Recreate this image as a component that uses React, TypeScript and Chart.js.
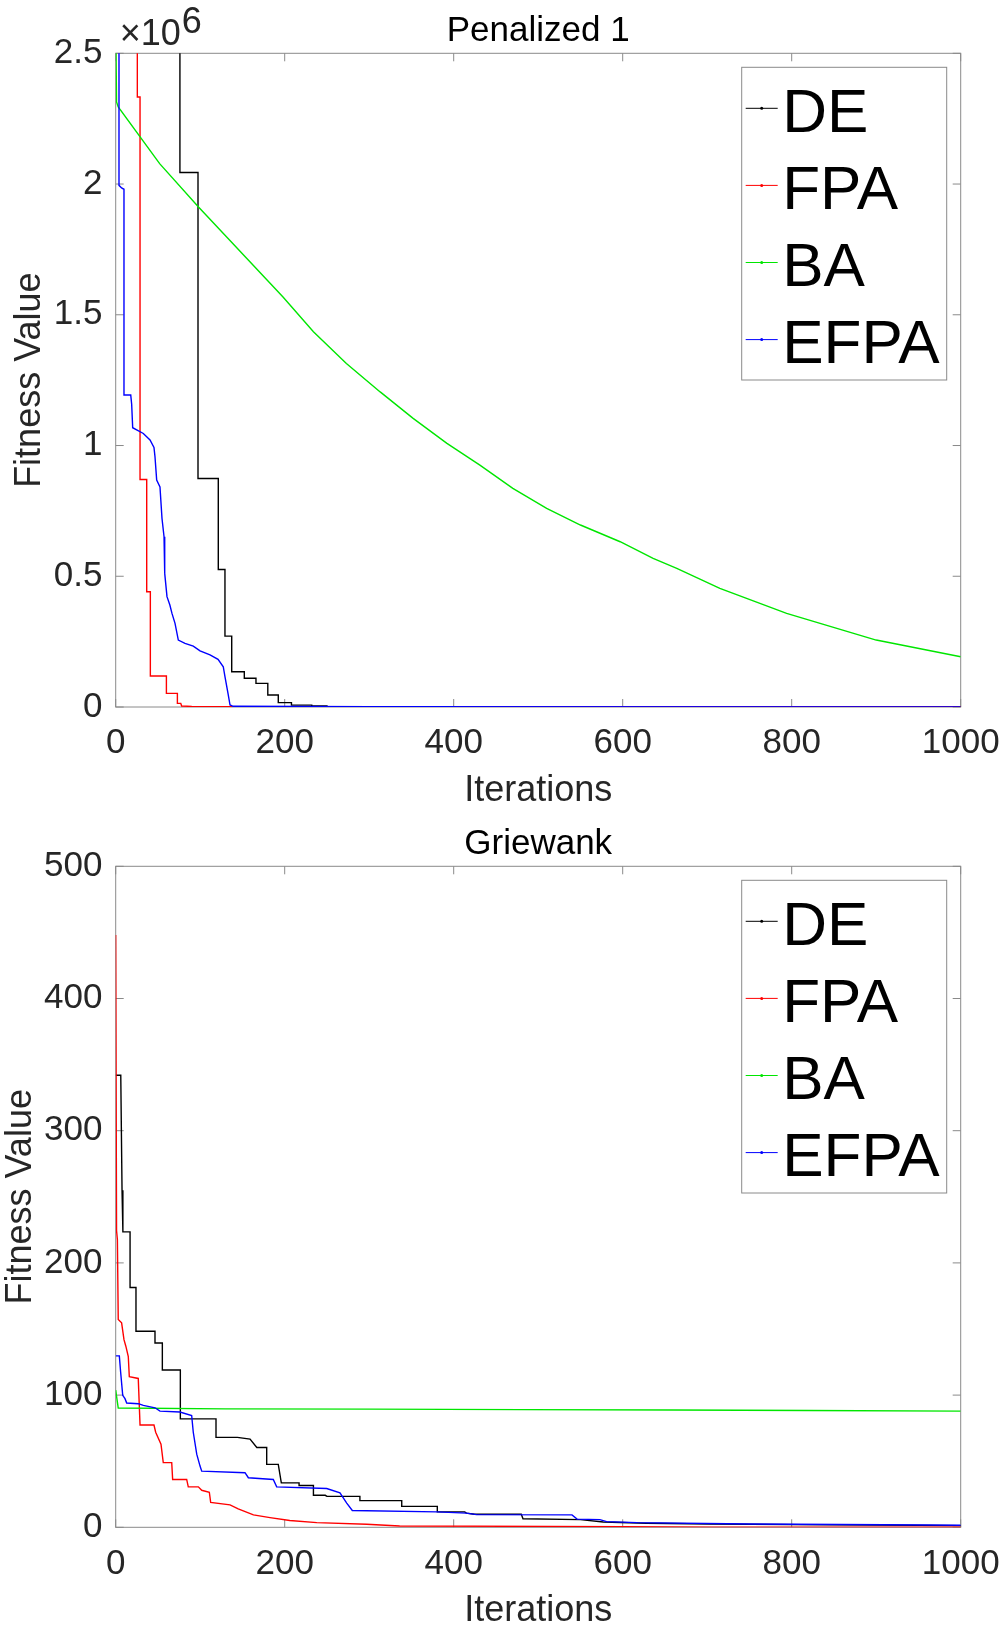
import React, { useEffect, useRef } from "react";
import { Chart, registerables } from "chart.js";

Chart.register(...registerables);

const FONT = "'Liberation Sans', Arial, Helvetica, sans-serif";
const AXIS_COLOR = "#8a8a8a";
const TEXT_COLOR = "#262626";

const SERIES_NAMES = ["DE", "FPA", "BA", "EFPA"];
const SERIES_COLORS = ["#000000", "#ff0000", "#00e600", "#0000ff"];

const X_TICKS = [0, 200, 400, 600, 800, 1000];

// ---------- Penalized 1 (values in units of 10^6) ----------
const PEN_Y_TICKS = [0, 0.5, 1, 1.5, 2, 2.5];

const penDE: [number, number][] = [
  [0, 3.2], [76, 3.2], [76, 2.044], [97.4, 2.044], [97.4, 0.874], [121.4, 0.874],
  [121.4, 0.526], [129.3, 0.526], [129.3, 0.271], [137.3, 0.271], [137.3, 0.135],
  [152.2, 0.135], [152.2, 0.11], [166, 0.11], [166, 0.0905], [180, 0.0905],
  [180, 0.046], [192.4, 0.046], [192.4, 0.0166], [208, 0.0166], [208, 0.007],
  [232, 0.007], [232, 0.004], [250, 0.004], [250, 0.002], [300, 0.001], [1000, 0.0003],
];

const penFPA: [number, number][] = [
  [0, 3.2], [25.6, 3.2], [25.6, 2.333], [28.8, 2.333], [28.8, 0.87], [36.7, 0.87],
  [36.7, 0.441], [41, 0.441], [41, 0.1185], [60, 0.1185], [60, 0.052], [73, 0.052],
  [73, 0.014], [77, 0.014], [78, 0.004], [90, 0.002], [1000, 0.0005],
];

const penBA: [number, number][] = [
  [0, 2.62], [1, 2.314], [3, 2.295], [52, 2.078], [98, 1.912], [198, 1.568],
  [234, 1.435], [273, 1.314], [313, 1.205], [352, 1.104], [392, 1.008], [431, 0.925],
  [470, 0.836], [510, 0.76], [550, 0.696], [597, 0.632], [636, 0.568], [664, 0.53],
  [715, 0.454], [794, 0.358], [900, 0.256], [1000, 0.192],
];

const penEFPA: [number, number][] = [
  [0, 2.8], [3.9, 2.8], [3.9, 1.995], [7, 1.985], [9.8, 1.98], [9.8, 1.193],
  [17.8, 1.193], [18.9, 1.158], [20.1, 1.068], [32.7, 1.046], [40.6, 1.021],
  [45.3, 0.993], [46.5, 0.957], [48.5, 0.868], [52.4, 0.842], [54.8, 0.721],
  [57.2, 0.651], [58, 0.511], [60.7, 0.422], [64.1, 0.39], [66.6, 0.358],
  [70.2, 0.32], [74.1, 0.256], [82, 0.2435], [91.8, 0.233], [99.8, 0.215],
  [111.6, 0.199], [121.1, 0.182], [127.3, 0.154], [129.3, 0.116], [132.9, 0.052],
  [135.3, 0.0076], [139, 0.0027], [300, 0.001], [1000, 0.0003],
];

// ---------- Griewank ----------
const GR_Y_TICKS = [0, 100, 200, 300, 400, 500];

const grDE: [number, number][] = [
  [0, 342], [6, 342], [7.5, 255], [8.5, 223.5], [17, 223.5], [17, 181.4], [24, 181.4],
  [24, 148.3], [46.5, 148.3], [46.5, 139.4], [55.2, 139.4], [55.2, 119], [76.5, 119],
  [76.5, 82], [118.7, 82], [118.7, 68], [144, 68], [159, 66.7], [167, 60.4],
  [178.7, 60.4], [178.7, 47.6], [192.4, 47.6], [196, 33.6], [217, 33.6], [217, 31.6],
  [234, 31.6], [234, 24.2], [248, 24.2], [250, 23.4], [289, 23.4], [289, 20.2],
  [338.5, 20.2], [338.5, 15.8], [380.6, 15.8], [380.6, 11.7], [413, 11.7], [415, 10.7],
  [425, 9.9], [480, 9.9], [482, 6.5], [550, 5.8], [577, 4.0], [628, 3.1], [703, 2.5],
  [850, 1.8], [1000, 1.3],
];

const grFPA: [number, number][] = [
  [0, 448], [1, 224.5], [2, 217.6], [3, 157.2], [7, 154.7], [9.8, 141.9], [12, 137],
  [14.9, 129.2], [16.1, 113.9], [26.7, 112.6], [28.8, 77.4], [45.3, 77.4], [47.3, 71.9],
  [53.6, 62.9], [56.3, 48.9], [66.3, 48.9], [67.4, 36.2], [84, 36.2], [85.9, 30.6],
  [97.8, 30.6], [101.8, 28], [110.8, 26.5], [112.4, 18.8], [135.3, 17], [145, 14],
  [163, 9.4], [182.6, 7.3], [206, 5.1], [238, 3.5], [297, 2.3], [336, 1.0], [600, 0.5],
  [705, 0.1], [1000, 0.05],
];

const grBA: [number, number][] = [
  [0, 103.7], [3, 90.2], [130, 89.6], [300, 89.4], [480, 89.0], [660, 88.7],
  [820, 88.4], [1000, 87.9],
];

const grEFPA: [number, number][] = [
  [0, 129.7], [4.3, 129.7], [5.8, 117.7], [8.3, 99.8], [11, 97.3], [13, 94],
  [26.7, 93.5], [32.7, 92.2], [46.5, 90.4], [52.4, 87.9], [76, 87.2], [89.9, 84.6],
  [91.8, 71.9], [95.9, 55.3], [99.8, 46.3], [101.8, 42.5], [153, 41.3], [157, 37.5],
  [186.5, 36.2], [190.5, 30.6], [249.7, 29.3], [265.4, 26], [273.4, 18.3], [280, 12.7],
  [380, 11.7], [415, 10.7], [427, 9.6], [540, 9.4], [546, 6.2], [573, 5.8], [581, 4.3],
  [617, 3.5], [750, 2.5], [962, 1.76], [1000, 1.6],
];

type Series = [number, number][];

interface PanelProps {
  top: number;
  height: number;
  title: string;
  series: Series[];
  yScale: number;
  yTicks: number[];
  exponent: boolean;
  xAxisHeight: number;
  xTitlePad: number;
  yTitlePad: number;
}

function makeDecor(title: string, exponent: boolean) {
  return {
    id: "decor",
    beforeDatasetsDraw(chart: any) {
      const { ctx, chartArea: a, scales } = chart;
      ctx.save();
      ctx.strokeStyle = AXIS_COLOR;
      ctx.lineWidth = 1;
      ctx.strokeRect(a.left, a.top, a.right - a.left, a.bottom - a.top);
      const TL = 8;
      ctx.beginPath();
      for (const t of scales.x.ticks) {
        const px = scales.x.getPixelForValue(t.value);
        ctx.moveTo(px, a.bottom);
        ctx.lineTo(px, a.bottom - TL);
        ctx.moveTo(px, a.top);
        ctx.lineTo(px, a.top + TL);
      }
      for (const t of scales.y.ticks) {
        const py = scales.y.getPixelForValue(t.value);
        ctx.moveTo(a.left, py);
        ctx.lineTo(a.left + TL, py);
        ctx.moveTo(a.right, py);
        ctx.lineTo(a.right - TL, py);
      }
      ctx.stroke();
      ctx.restore();
    },
    afterDraw(chart: any) {
      const { ctx, chartArea: a } = chart;
      ctx.save();
      // title
      ctx.fillStyle = "#000";
      ctx.font = `35px ${FONT}`;
      ctx.textAlign = "center";
      ctx.textBaseline = "alphabetic";
      ctx.fillText(title, (a.left + a.right) / 2, a.top - 12);
      // exponent
      if (exponent) {
        ctx.fillStyle = TEXT_COLOR;
        ctx.textAlign = "left";
        ctx.font = `36px ${FONT}`;
        const base = "\u00d710";
        ctx.fillText(base, a.left + 4, a.top - 8.5);
        const w = ctx.measureText(base).width;
        ctx.fillText("6", a.left + 4 + w + 1, a.top - 20);
      }
      // legend
      const lx = a.right - 219;
      const ly = a.top + 14;
      const lw = 205;
      const lh = 312.7;
      ctx.fillStyle = "#fff";
      ctx.fillRect(lx, ly, lw, lh);
      ctx.strokeStyle = AXIS_COLOR;
      ctx.lineWidth = 1;
      ctx.strokeRect(lx, ly, lw, lh);
      ctx.font = `62px ${FONT}`;
      ctx.textAlign = "left";
      ctx.textBaseline = "alphabetic";
      SERIES_NAMES.forEach((name, i) => {
        const yLine = ly + 41 + i * 77.1;
        ctx.strokeStyle = SERIES_COLORS[i];
        ctx.lineWidth = 1;
        ctx.beginPath();
        ctx.moveTo(lx + 4, yLine);
        ctx.lineTo(lx + 36, yLine);
        ctx.stroke();
        ctx.fillStyle = SERIES_COLORS[i];
        ctx.beginPath();
        ctx.arc(lx + 20, yLine, 1.5, 0, Math.PI * 2);
        ctx.fill();
        ctx.fillStyle = "#000";
        ctx.fillText(name, lx + 40.5, yLine + 23.4);
      });
      ctx.restore();
    },
  };
}

function Panel(props: PanelProps) {
  const ref = useRef<HTMLCanvasElement | null>(null);
  useEffect(() => {
    if (!ref.current) return;
    const {
      series, yScale, yTicks, title, exponent, xAxisHeight, xTitlePad, yTitlePad,
    } = props;
    const yMax = yTicks[yTicks.length - 1] * yScale;
    const chart = new Chart(ref.current, {
      type: "line",
      data: {
        datasets: series.map((s, i) => ({
          label: SERIES_NAMES[i],
          data: s.map(([x, y]) => ({ x, y: y * yScale })),
          borderColor: SERIES_COLORS[i],
          backgroundColor: SERIES_COLORS[i],
          borderWidth: 1.4,
          pointRadius: 0,
          fill: false,
          tension: 0,
          order: SERIES_NAMES.length - 1 - i,
        })),
      },
      options: {
        responsive: false,
        animation: false,
        layout: { padding: { top: 53.3, right: 45.3, left: 0, bottom: 0 } },
        plugins: {
          legend: { display: false },
          tooltip: { enabled: false },
          title: { display: false },
        },
        scales: {
          x: {
            type: "linear",
            min: 0,
            max: 1000,
            grid: { display: false, drawTicks: false },
            border: { display: false },
            afterBuildTicks: (s: any) => {
              s.ticks = X_TICKS.map((v) => ({ value: v }));
            },
            afterFit: (s: any) => {
              s.height = xAxisHeight;
              s.paddingLeft = 0;
              s.paddingRight = 0;
            },
            ticks: {
              font: { family: FONT, size: 35 },
              color: TEXT_COLOR,
              padding: 15.8,
              maxRotation: 0,
              autoSkip: false,
              callback: (v: any) => String(v),
            },
            title: {
              display: true,
              text: "Iterations",
              color: TEXT_COLOR,
              font: { family: FONT, size: 36, lineHeight: 1 },
              padding: { top: 0, bottom: xTitlePad },
            },
          },
          y: {
            type: "linear",
            min: 0,
            max: yMax,
            grid: { display: false, drawTicks: false },
            border: { display: false },
            afterBuildTicks: (s: any) => {
              s.ticks = yTicks.map((v) => ({ value: v * yScale }));
            },
            afterFit: (s: any) => {
              s.width = 115.7;
              s.paddingTop = 0;
              s.paddingBottom = 0;
            },
            ticks: {
              font: { family: FONT, size: 35 },
              color: TEXT_COLOR,
              padding: 13.2,
              autoSkip: false,
              callback: (v: any) => String(+(Number(v) / yScale).toFixed(3)),
            },
            title: {
              display: true,
              text: "Fitness Value",
              color: TEXT_COLOR,
              font: { family: FONT, size: 36, lineHeight: 1 },
              padding: { top: yTitlePad, bottom: 0 },
            },
          },
        },
      } as any,
      plugins: [makeDecor(title, exponent)],
    });
    return () => chart.destroy();
  }, []);
  return (
    <canvas
      ref={ref}
      width={1006}
      height={props.height}
      style={{ position: "absolute", left: 0, top: props.top, display: "block" }}
    />
  );
}

export default function App() {
  return (
    <div style={{ position: "absolute", left: 0, top: 0, width: 1006, height: 1627, background: "#fff" }}>
      <Panel
        top={0}
        height={813}
        title="Penalized 1"
        series={[penDE, penFPA, penBA, penEFPA]}
        yScale={1e6}
        yTicks={PEN_Y_TICKS}
        exponent={true}
        xAxisHeight={106}
        xTitlePad={4}
        yTitlePad={12}
      />
      <Panel
        top={813}
        height={814}
        title="Griewank"
        series={[grDE, grFPA, grBA, grEFPA]}
        yScale={1}
        yTicks={GR_Y_TICKS}
        exponent={false}
        xAxisHeight={99.7}
        xTitlePad={-2.5}
        yTitlePad={2.7}
      />
    </div>
  );
}
